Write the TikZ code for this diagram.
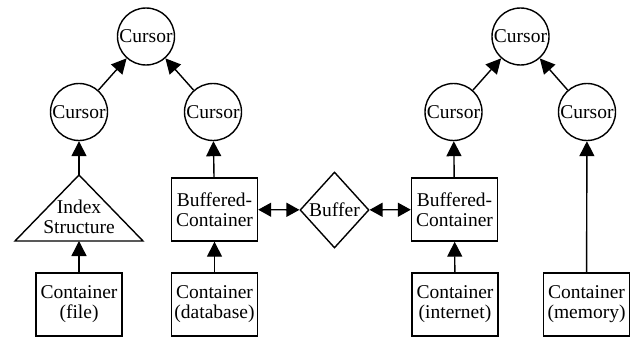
\documentclass[tikz,border=0pt]{standalone}
\usepackage{fontspec}
\setmainfont{Liberation Serif}
\usetikzlibrary{shapes.geometric,arrows.meta}

\begin{document}
\begin{tikzpicture}[x=1pt,y=-1pt,line width=1.4pt,
  every node/.style={font=\fontsize{19.5}{20}\selectfont, align=center, inner sep=0pt},
  cur/.style={circle,draw,minimum size=57pt},
  box/.style={rectangle,draw,minimum width=86pt,minimum height=63pt},
  buf/.style={diamond,draw,aspect=0.9,minimum width=69pt,minimum height=76pt},
  tip/.style={Triangle[length=15pt,width=15pt]},
  arr/.style={-{Triangle[length=15pt,width=15pt]}},
  dbl/.style={{Triangle[length=13pt,width=14pt]}-{Triangle[length=13pt,width=14pt]}}]

\useasboundingbox (0,0) rectangle (631,337);

% cursors
\node[cur] (c1) at (146,36.5) {Cursor};
\node[cur] (c2) at (79,112) {Cursor};
\node[cur] (c3) at (213,112) {Cursor};
\node[cur] (c4) at (520.5,36.5) {Cursor};
\node[cur] (c5) at (453.5,112) {Cursor};
\node[cur] (c6) at (587,112) {Cursor};

% index structure
\coordinate (tritop) at (79,175);
\coordinate (tribot) at (79,241);
\draw (tritop) -- (15,241) -- (143,241) -- cycle;
\node (idx) at (79,217) {Index\\Structure};

% containers
\node[box] (bc1) at (214.5,209.5) {Buffered-\\Container};
\node[box] (bc2) at (454.5,209.5) {Buffered-\\Container};
\node[box] (file) at (79,304.5) {Container\\(file)};
\node[box] (db) at (214.5,304.5) {Container\\(database)};
\node[box] (inet) at (455,304.5) {Container\\(internet)};
\node[box] (mem) at (586.5,304.5) {Container\\(memory)};
\node[buf] (buf) at (334.5,210) {Buffer};

% connectors
\draw[arr] (file) -- (tribot);
\draw[arr] (tritop) -- (c2);
\draw[arr] (c2) -- (c1);
\draw[arr] (c3) -- (c1);
\draw[arr] (db) -- (bc1);
\draw[arr] (bc1) -- (c3);
\draw[dbl] (bc1) -- (buf);
\draw[dbl] (buf) -- (bc2);
\draw[arr] (inet) -- (bc2);
\draw[arr] (bc2) -- (c5);
\draw[arr] (c5) -- (c4);
\draw[arr] (c6) -- (c4);
\draw[arr] (mem) -- (c6);
\end{tikzpicture}
\end{document}
